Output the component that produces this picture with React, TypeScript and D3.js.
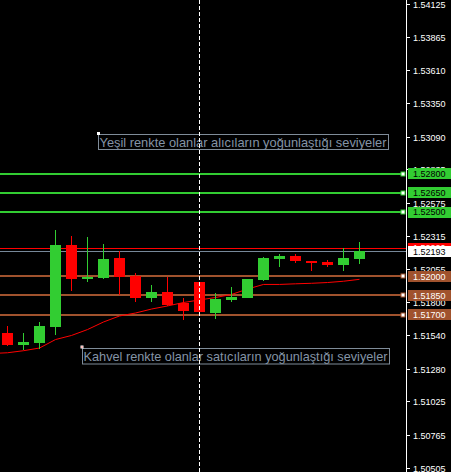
import React from "react";
import * as d3 from "d3";

const W = 451;
const H = 472;

const candleOpen = [1.51557, 1.51466, 1.51479, 1.51606, 1.52244, 1.51981, 1.51989, 1.52142, 1.52002, 1.51833, 1.51877, 1.51789, 1.51955, 1.51716, 1.51817, 1.51833, 1.51973, 1.52137, 1.52158, 1.52119, 1.52111, 1.5209, 1.52137];
const candleHigh = [1.51612, 1.51557, 1.51643, 1.52361, 1.52314, 1.52306, 1.52252, 1.52197, 1.52025, 1.51932, 1.51996, 1.51833, 1.51958, 1.51869, 1.51916, 1.5198, 1.5215, 1.52173, 1.52173, 1.52119, 1.52127, 1.5222, 1.52267];
const candleLow = [1.51456, 1.51425, 1.51432, 1.51544, 1.51887, 1.51957, 1.51981, 1.51856, 1.51801, 1.51801, 1.51766, 1.51661, 1.51718, 1.51669, 1.51801, 1.51831, 1.51965, 1.52074, 1.52106, 1.52043, 1.52072, 1.52043, 1.52098];
const candleClose = [1.51466, 1.51487, 1.51612, 1.52244, 1.51981, 1.51996, 1.52134, 1.51996, 1.51833, 1.51877, 1.51778, 1.51731, 1.51723, 1.51822, 1.5184, 1.51978, 1.52142, 1.52158, 1.52121, 1.52103, 1.52088, 1.52142, 1.52193];

// moving average, first value belongs to the bar before the first visible one
const maValues = [1.51397, 1.51403, 1.51419, 1.5144, 1.51506, 1.51538, 1.51584, 1.51643, 1.5169, 1.51713, 1.51744, 1.51768, 1.51795, 1.51815, 1.51834, 1.51858, 1.519, 1.51936, 1.51936, 1.51941, 1.51945, 1.51951, 1.51961, 1.51976];

const buyLevels = [1.528, 1.5265, 1.525];
const sellLevels = [1.52, 1.5185, 1.517];
const bidPrice = 1.52193;
const askPrice = 1.5222;
const cursorBar = 12;

const tickValues = [1.54125, 1.53865, 1.5361, 1.5335, 1.5309, 1.52835, 1.52575, 1.52315, 1.52055, 1.518, 1.5154, 1.5128, 1.51025, 1.50765, 1.50505];

const buyText = "Yeşil renkte olanlar alıcıların yoğunlaştığı seviyeler";
const sellText = "Kahvel renkte olanlar satıcıların yoğunlaştığı seviyeler";

const GREEN = "#32cd32";
const BROWN = "#a0522d";
const AXIS_X = 406.5;

export default function App() {
  const y = d3.scaleLinear().domain([1.504728, 1.54155]).range([H, 0]);
  const x = d3.scaleLinear().domain([0, 22]).range([7.5, 359.5]);

  const maLine = d3
    .line<number>()
    .x((_, i) => x(i - 1))
    .y((d) => y(d))
    .curve(d3.curveLinear)(maValues);

  const fmt = (v: number) => v.toFixed(5);
  const labelFont = "'Liberation Sans', Arial, sans-serif";

  const levelLine = (v: number, color: string, key: string) => {
    const ly = Math.round(y(v));
    return (
      <g key={key}>
        <line x1={0} x2={403} y1={ly} y2={ly} stroke={color} strokeWidth={2} />
        <rect x={401} y={ly - 2} width={4} height={4} fill="#ffffff" stroke={color} strokeWidth={1} />
      </g>
    );
  };

  const priceBox = (v: number, bg: string, fg: string, key: string) => {
    const ly = y(v);
    return (
      <g key={key}>
        <rect x={408} y={Math.round(ly - 5.5)} width={W - 408} height={11} fill={bg} />
        <text x={413} y={ly + 3.3} fontSize={9} fill={fg} fontFamily={labelFont}>
          {fmt(v)}
        </text>
      </g>
    );
  };

  return (
    <svg
      width={W}
      height={H}
      style={{ position: "absolute", left: 0, top: 0, background: "#000" }}
    >
      <rect x={0} y={0} width={W} height={H} fill="#000" />

      {/* level lines */}
      {buyLevels.map((v, i) => levelLine(v, GREEN, "b" + i))}
      {sellLevels.map((v, i) => levelLine(v, BROWN, "s" + i))}

      {/* ask / bid lines */}
      <line x1={0} x2={AXIS_X} y1={Math.round(y(askPrice)) + 0.5} y2={Math.round(y(askPrice)) + 0.5} stroke="#ff0000" strokeWidth={1} />
      <line x1={0} x2={AXIS_X} y1={Math.round(y(bidPrice)) + 0.5} y2={Math.round(y(bidPrice)) + 0.5} stroke="#778899" strokeWidth={1} />

      {/* moving average */}
      <path d={maLine || ""} fill="none" stroke="#ff0000" strokeWidth={1} />

      {/* candles */}
      {candleOpen.map((o, i) => {
        const c = candleClose[i];
        const up = c >= o;
        const color = up ? GREEN : "#ff0000";
        const cx = x(i);
        const top = Math.round(y(Math.max(o, c)));
        const bot = Math.round(y(Math.min(o, c)));
        return (
          <g key={"c" + i}>
            <line x1={cx} x2={cx} y1={Math.round(y(candleHigh[i]))} y2={Math.round(y(candleLow[i]))} stroke={color} strokeWidth={1} />
            <rect x={cx - 5.5} y={top} width={11} height={Math.max(2, bot - top)} fill={color} />
          </g>
        );
      })}

      {/* text objects */}
      <rect x={98.5} y={134.5} width={290} height={15} fill="none" stroke="#7f8c99" strokeWidth={1} />
      <rect x={97} y={132} width={3} height={3} fill="#ffffff" />
      <text x={99.5} y={147} fontSize={13} fill="#8494a6" fontFamily={labelFont} textLength={287} lengthAdjust="spacingAndGlyphs">
        {buyText}
      </text>

      <rect x={82.5} y={348.5} width={307} height={15.5} fill="none" stroke="#7f8c99" strokeWidth={1} />
      <rect x={80.5} y={345.5} width={3} height={3} fill="#ffffff" />
      <rect x={81.5} y={346.5} width={1} height={1} fill="#ff0000" />
      <text x={83.5} y={361} fontSize={13} fill="#8494a6" fontFamily={labelFont} textLength={304} lengthAdjust="spacingAndGlyphs">
        {sellText}
      </text>

      {/* cursor vertical dashed line */}
      <line x1={x(cursorBar)} x2={x(cursorBar)} y1={0} y2={H} stroke="#ffffff" strokeWidth={1} strokeDasharray="4,2" />

      {/* axis */}
      <line x1={AXIS_X} x2={AXIS_X} y1={0} y2={H} stroke="#ffffff" strokeWidth={1} />
      {tickValues.map((v, i) => {
        const ty = Math.round(y(v)) + 0.5;
        return (
          <g key={"t" + i}>
            <line x1={407} x2={410} y1={ty} y2={ty} stroke="#ffffff" strokeWidth={1} />
            <text x={413} y={ty + 3.3} fontSize={9} fill="#ffffff" fontFamily={labelFont}>
              {fmt(v)}
            </text>
          </g>
        );
      })}

      {/* price boxes */}
      {buyLevels.map((v, i) => priceBox(v, GREEN, "#000000", "pb" + i))}
      {sellLevels.map((v, i) => priceBox(v, BROWN, "#ffffff", "ps" + i))}
      {priceBox(askPrice, "#ff0000", "#ffffff", "ask")}
      {priceBox(bidPrice, "#ffffff", "#000000", "bid")}
    </svg>
  );
}
